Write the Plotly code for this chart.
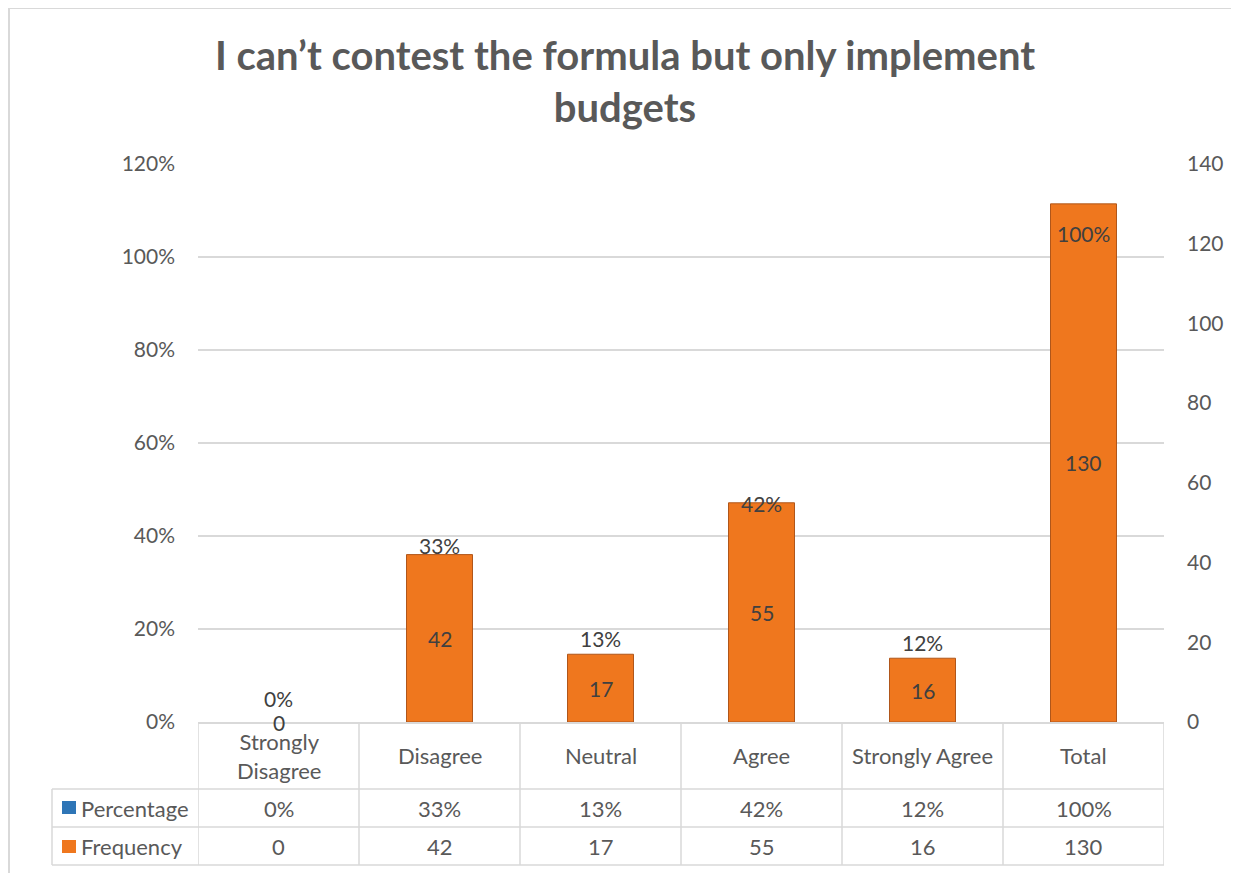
import plotly.graph_objects as go

# ---------------- data ----------------
categories = ["Strongly Disagree", "Disagree", "Neutral", "Agree", "Strongly Agree", "Total"]
table_labels = ["Strongly<br>Disagree", "Disagree", "Neutral", "Agree", "Strongly Agree", "Total"]
percentage = [0.00, 0.33, 0.13, 0.42, 0.12, 1.00]
frequency = [0, 42, 17, 55, 16, 130]
series_names = ["Percentage", "Frequency"]
title_text = "I can\u2019t contest the formula but only implement<br>budgets"

# ---------------- layout constants ----------------
OFF = 8  # page body margin
W, H = 1239 - OFF, 873 - OFF
# plot area in reference-picture pixels
L, R, T, B = 198, 1164, 164, 722
FONT = "Lato"
GREY = "#595959"
DARK = "#404040"
LINE = "#D9D9D9"
ORANGE = "#EF771E"
BLUE = "#2E75B6"


def px(xp):
    return (xp - L) / (R - L)


def py(yp):
    return (B - yp) / (B - T)


fig = go.Figure()

fig.add_bar(
    x=categories, y=percentage, name=series_names[0], yaxis="y",
    width=0.41, marker=dict(color=BLUE, line=dict(width=0)), showlegend=False, hoverinfo="x+y",
)
fig.add_bar(
    x=categories, y=frequency, name=series_names[1], yaxis="y2",
    width=0.41,
    marker=dict(color=ORANGE,
                line=dict(color="#B0561A", width=[0 if f == 0 else 1 for f in frequency])),
    showlegend=False, hoverinfo="x+y",
)

annotations = []
# percentage labels (outside end)
for c, p in zip(categories, percentage):
    annotations.append(dict(
        x=c, y=p, xref="x", yref="y", text=f"{p:.0%}", showarrow=False,
        yanchor="bottom", yshift=9, font=dict(family=FONT, size=21, color=DARK),
    ))
# frequency labels (centre)
for c, f in zip(categories, frequency):
    annotations.append(dict(
        x=c, y=f / 2, xref="x", yref="y2", text=str(f), showarrow=False,
        yanchor="middle", font=dict(family=FONT, size=21, color=DARK),
    ))

# ---------------- data table ----------------
row_cat = (722 + 789) / 2
row_pct = (789 + 827) / 2
row_frq = (827 + 865) / 2
TF = dict(family=FONT, size=22, color=GREY)
for c, lab, p, f in zip(categories, table_labels, percentage, frequency):
    annotations.append(dict(x=c, y=py(row_cat), xref="x", yref="paper", text=lab,
                            showarrow=False, yanchor="middle", font=TF))
    annotations.append(dict(x=c, y=py(row_pct), xref="x", yref="paper", text=f"{p:.0%}",
                            showarrow=False, yanchor="middle", font=TF))
    annotations.append(dict(x=c, y=py(row_frq), xref="x", yref="paper", text=str(f),
                            showarrow=False, yanchor="middle", font=TF))
for name, yy in zip(series_names, [row_pct, row_frq]):
    annotations.append(dict(x=px(79), y=py(yy), xref="paper", yref="paper", text=name,
                            showarrow=False, xanchor="left", yanchor="middle", font=TF))

shapes = []
# chart border
shapes.append(dict(type="rect", xref="paper", yref="paper",
                   x0=px(9), x1=px(1300), y0=py(8), y1=py(950),
                   line=dict(color=LINE, width=2), fillcolor="rgba(0,0,0,0)", layer="below"))
# horizontal table lines
for yy, x0 in [(789, 52), (827, 52), (865, 52)]:
    shapes.append(dict(type="line", xref="paper", yref="paper",
                       x0=px(x0), x1=px(R), y0=py(yy), y1=py(yy),
                       line=dict(color=LINE, width=1.5)))
# vertical table lines
for i in range(len(categories) + 1):
    shapes.append(dict(type="line", xref="x", yref="paper",
                       x0=i - 0.5, x1=i - 0.5, y0=py(B), y1=py(865),
                       line=dict(color=LINE, width=1.5)))
shapes.append(dict(type="line", xref="paper", yref="paper",
                   x0=px(52), x1=px(52), y0=py(789), y1=py(865),
                   line=dict(color=LINE, width=1.5)))
# legend keys
for col, (y0, y1) in zip([BLUE, ORANGE], [(801, 814), (840, 853)]):
    shapes.append(dict(type="rect", xref="paper", yref="paper",
                       x0=px(62), x1=px(76), y0=py(y0), y1=py(y1),
                       fillcolor=col, line=dict(color=col, width=0)))

fig.update_layout(
    width=W, height=H,
    margin=dict(l=L - OFF, r=1239 - R, t=T - OFF, b=873 - B, autoexpand=False),
    paper_bgcolor="white", plot_bgcolor="white",
    barmode="overlay",
    title=dict(text=title_text, x=px(625), xanchor="center", xref="paper",
               y=1 - (70 - OFF) / H, yanchor="middle",
               font=dict(family=FONT, size=40, color=GREY, weight="bold")),
    xaxis=dict(type="category", range=[-0.5, len(categories) - 0.5], showticklabels=False,
               showgrid=False, showline=True, linecolor=LINE, linewidth=1.5, ticks="",
               zeroline=False),
    yaxis=dict(range=[0, 1.2], dtick=0.2, tickformat=".0%", showgrid=True, gridcolor=LINE,
               gridwidth=1.5, zeroline=False, showline=False, ticks="",
               ticklabelstandoff=22,
               tickfont=dict(family=FONT, size=21, color=GREY)),
    yaxis2=dict(range=[0, 140], dtick=20, overlaying="y", side="right", showgrid=False,
                zeroline=False, showline=False, ticks="", ticklabelstandoff=22,
                tickfont=dict(family=FONT, size=21, color=GREY)),
    annotations=annotations, shapes=shapes,
)

fig.write_html("out.html")
